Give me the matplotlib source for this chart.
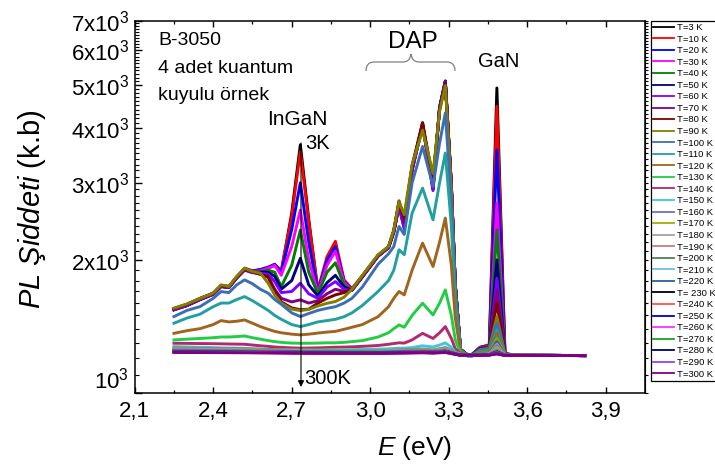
import numpy as np
import matplotlib

matplotlib.use("Agg")

import matplotlib.pyplot as plt
import matplotlib.transforms as mtransforms
from matplotlib.path import Path
from matplotlib.patches import PathPatch
from matplotlib.ticker import FixedLocator, MultipleLocator, NullFormatter

plt.rcParams["font.family"] = ["Liberation Sans", "DejaVu Sans"]
plt.rcParams["mathtext.fontset"] = "custom"
plt.rcParams["mathtext.rm"] = "Liberation Sans"
plt.rcParams["mathtext.it"] = "Liberation Sans:italic"

E_fine = [2.25, 2.30, 2.35, 2.40, 2.43, 2.46, 2.49, 2.52, 2.55, 2.58,
          2.61, 2.635, 2.66, 2.70, 2.733, 2.765, 2.80, 2.835, 2.867, 2.90,
          2.93, 2.97, 3.03, 3.07, 3.09, 3.11, 3.13, 3.16, 3.20, 3.24,
          3.265, 3.287, 3.31, 3.325, 3.345, 3.38, 3.42, 3.455, 3.484, 3.515,
          3.60, 3.82]
E_coarse = [2.25, 2.40, 2.52, 2.73, 2.90, 3.05, 3.20, 3.24, 3.287, 3.345,
            3.42, 3.455, 3.484, 3.515, 3.82]

# PL intensity (a.u.), 3 K .. 150 K on E_fine
pl_3K = [1550, 1585, 1635, 1680, 1750, 1740, 1830, 1915, 1890, 1905,
         1920, 1950, 1880, 2560, 3660, 2480, 1700, 2000, 2170, 1790,
         1720, 1840, 2050, 2140, 2330, 2700, 2450, 3250, 4000, 3050,
         4400, 5080, 2900, 1750, 1255, 1210, 1270, 1285, 4925, 1225, 1218, 1216]
pl_10K = [1555, 1590, 1640, 1685, 1755, 1745, 1835, 1920, 1895, 1905,
          1930, 1955, 1900, 2520, 3530, 2450, 1714, 2040, 2210, 1806,
          1725, 1845, 2055, 2145, 2335, 2710, 2460, 3270, 4050, 3000,
          4420, 5100, 2950, 1760, 1255, 1210, 1270, 1285, 4475, 1225, 1218, 1216]
pl_20K = [1550, 1585, 1635, 1680, 1750, 1740, 1830, 1915, 1890, 1905,
          1930, 1960, 1880, 2350, 3000, 2200, 1700, 2000, 2150, 1790,
          1720, 1840, 2050, 2140, 2320, 2650, 2360, 3200, 4080, 2900,
          4450, 5100, 2950, 1760, 1255, 1210, 1268, 1280, 3565, 1225, 1218, 1216]
pl_30K = [1545, 1580, 1630, 1675, 1745, 1735, 1825, 1910, 1885, 1895,
          1920, 1950, 1850, 2150, 2600, 2000, 1690, 1950, 2100, 1780,
          1715, 1835, 2045, 2135, 2320, 2660, 2380, 3200, 4050, 2950,
          4420, 5080, 2950, 1755, 1255, 1210, 1266, 1278, 2700, 1225, 1218, 1216]
pl_40K = [1545, 1580, 1630, 1675, 1745, 1735, 1825, 1905, 1880, 1885,
          1900, 1880, 1744, 1950, 2344, 1880, 1680, 1880, 1975, 1760,
          1712, 1835, 2045, 2135, 2320, 2670, 2400, 3220, 4030, 2980,
          4400, 5060, 2950, 1755, 1255, 1210, 1264, 1275, 2346, 1225, 1218, 1216]
pl_50K = [1545, 1580, 1630, 1675, 1745, 1735, 1825, 1905, 1880, 1880,
          1880, 1840, 1720, 1800, 2022, 1760, 1660, 1780, 1850, 1740,
          1710, 1835, 2045, 2140, 2320, 2670, 2400, 3220, 4100, 2900,
          4450, 5110, 2980, 1760, 1255, 1210, 1262, 1272, 2005, 1225, 1218, 1216]
pl_60K = [1545, 1580, 1630, 1675, 1745, 1735, 1825, 1900, 1875, 1870,
          1860, 1790, 1690, 1700, 1775, 1680, 1640, 1740, 1790, 1720,
          1710, 1835, 2045, 2140, 2320, 2650, 2370, 3200, 4080, 2880,
          4430, 5090, 2970, 1760, 1255, 1210, 1260, 1270, 1821, 1225, 1218, 1216]
pl_70K = [1550, 1585, 1635, 1680, 1750, 1740, 1830, 1905, 1880, 1860,
          1840, 1720, 1640, 1610, 1627, 1600, 1620, 1680, 1720, 1700,
          1712, 1840, 2050, 2145, 2330, 2690, 2430, 3250, 4080, 3000,
          4420, 5070, 2960, 1760, 1255, 1210, 1258, 1268, 1714, 1225, 1218, 1216]
pl_80K = [1555, 1590, 1640, 1685, 1755, 1745, 1835, 1915, 1885, 1860,
          1830, 1700, 1610, 1560, 1545, 1550, 1600, 1640, 1670, 1690,
          1718, 1845, 2055, 2150, 2340, 2730, 2500, 3280, 4110, 3050,
          4400, 5050, 2950, 1760, 1255, 1210, 1256, 1266, 1599, 1225, 1218, 1216]
pl_90K = [1558, 1593, 1640, 1685, 1760, 1745, 1840, 1920, 1887, 1871,
          1775, 1670, 1600, 1550, 1538, 1548, 1576, 1598, 1613, 1650,
          1720, 1850, 2060, 2150, 2346, 2720, 2540, 3300, 3950, 3150,
          4350, 4990, 2900, 1740, 1252, 1210, 1254, 1264, 1491, 1224, 1218, 1216]
pl_100K = [1491, 1540, 1571, 1640, 1699, 1690, 1760, 1806, 1770, 1720,
           1685, 1630, 1590, 1520, 1491, 1515, 1540, 1557, 1570, 1600,
           1640, 1740, 1960, 2070, 2150, 2388, 2290, 3000, 3627, 2945,
           3690, 4322, 2700, 1680, 1250, 1210, 1250, 1258, 1440, 1224, 1218, 1216]
pl_110K = [1440, 1480, 1510, 1570, 1600, 1600, 1630, 1655, 1620, 1580,
           1540, 1500, 1470, 1430, 1415, 1430, 1450, 1460, 1470, 1490,
           1520, 1580, 1700, 1800, 1900, 2114, 2060, 2560, 2918, 2472,
           3000, 3505, 2400, 1600, 1245, 1210, 1242, 1250, 1390, 1223, 1218, 1216]
pl_120K = [1366, 1385, 1400, 1430, 1460, 1450, 1455, 1465, 1440, 1415,
           1395, 1380, 1370, 1360, 1355, 1360, 1368, 1375, 1380, 1395,
           1410, 1430, 1490, 1570, 1640, 1700, 1670, 1900, 2189, 1937,
           2200, 2495, 1950, 1480, 1240, 1210, 1235, 1242, 1366, 1222, 1218, 1216]
pl_130K = [1320, 1325, 1330, 1335, 1340, 1340, 1343, 1347, 1335, 1325,
           1315, 1308, 1303, 1298, 1297, 1297, 1298, 1300, 1300, 1303,
           1308, 1315, 1340, 1370, 1400, 1427, 1410, 1500, 1599, 1504,
           1600, 1714, 1500, 1320, 1232, 1210, 1230, 1236, 1331, 1222, 1218, 1216]
pl_140K = [1297, 1296, 1295, 1294, 1293, 1292, 1291, 1290, 1285, 1280,
           1276, 1272, 1269, 1266, 1264, 1265, 1266, 1268, 1270, 1271,
           1273, 1276, 1282, 1290, 1295, 1300, 1298, 1320, 1366, 1330,
           1370, 1415, 1330, 1260, 1228, 1210, 1226, 1232, 1308, 1221, 1218, 1216]
pl_150K = [1275, 1272, 1270, 1268, 1266, 1265, 1264, 1263, 1260, 1258,
           1256, 1255, 1254, 1253, 1252, 1252, 1252, 1253, 1253, 1254,
           1255, 1256, 1258, 1260, 1262, 1264, 1264, 1268, 1280, 1272,
           1285, 1300, 1270, 1240, 1224, 1210, 1224, 1228, 1290, 1221, 1218, 1216]

# 160 K .. 300 K on E_coarse (nearly flat)
pl_160K = [1265, 1262, 1260, 1250, 1248, 1248, 1258, 1252, 1268, 1224, 1222, 1226, 1280, 1220, 1216]
pl_170K = [1260, 1258, 1256, 1247, 1246, 1246, 1254, 1250, 1262, 1223, 1221, 1225, 1270, 1220, 1216]
pl_180K = [1255, 1254, 1252, 1245, 1244, 1244, 1250, 1247, 1258, 1222, 1221, 1224, 1262, 1219, 1216]
pl_190K = [1252, 1251, 1250, 1243, 1242, 1242, 1248, 1245, 1254, 1222, 1220, 1223, 1255, 1219, 1216]
pl_200K = [1250, 1249, 1248, 1242, 1241, 1241, 1246, 1244, 1251, 1221, 1220, 1223, 1250, 1219, 1216]
pl_210K = [1248, 1247, 1246, 1240, 1239, 1240, 1244, 1242, 1248, 1221, 1220, 1222, 1245, 1219, 1216]
pl_220K = [1246, 1245, 1244, 1239, 1238, 1238, 1242, 1240, 1246, 1220, 1219, 1222, 1242, 1218, 1216]
pl_230K = [1244, 1243, 1242, 1237, 1236, 1236, 1240, 1238, 1244, 1220, 1219, 1221, 1240, 1218, 1216]
pl_240K = [1240, 1239, 1238, 1233, 1232, 1232, 1236, 1234, 1240, 1219, 1218, 1221, 1238, 1218, 1216]
pl_250K = [1242, 1241, 1240, 1235, 1234, 1234, 1238, 1236, 1242, 1219, 1218, 1221, 1236, 1218, 1216]
pl_260K = [1245, 1244, 1243, 1237, 1236, 1236, 1240, 1238, 1243, 1219, 1218, 1220, 1234, 1218, 1216]
pl_270K = [1243, 1242, 1241, 1236, 1235, 1235, 1239, 1237, 1241, 1219, 1218, 1220, 1232, 1218, 1216]
pl_280K = [1240, 1239, 1238, 1234, 1233, 1233, 1237, 1235, 1239, 1218, 1218, 1220, 1230, 1217, 1216]
pl_290K = [1238, 1237, 1236, 1232, 1231, 1231, 1235, 1233, 1237, 1218, 1217, 1220, 1228, 1217, 1216]
pl_300K = [1236, 1235, 1234, 1231, 1230, 1230, 1234, 1232, 1236, 1218, 1217, 1219, 1226, 1217, 1216]

legend_labels = ["T=3 K", "T=10 K", "T=20 K", "T=30 K", "T=40 K", "T=50 K",
                 "T=60 K", "T=70 K", "T=80 K", "T=90 K", "T=100 K", "T=110 K",
                 "T=120 K", "T=130 K", "T=140 K", "T=150 K", "T=160 K", "T=170 K",
                 "T=180 K", "T=190 K", "T=200 K", "T=210 K", "T=220 K", "T= 230 K",
                 "T=240 K", "T=250 K", "T=260 K", "T=270 K", "T=280 K", "T=290 K",
                 "T=300 K"]

line_colors = ["#000000", "#ff0000", "#0000ff", "#ff00ff", "#008000", "#000080",
               "#8000ff", "#800080", "#800000", "#808000", "#3c6eb4", "#22a0a0",
               "#a0641e", "#22cc44", "#b4286e", "#40c8d8", "#7070c8", "#a0b000",
               "#a0a0a0", "#c08080", "#508050", "#70c0e0", "#306090", "#000000",
               "#ff5050", "#0000c0", "#ff30ff", "#20a020", "#000070", "#9040ff",
               "#800080"]

x_ticks = [2.1, 2.4, 2.7, 3.0, 3.3, 3.6, 3.9]
x_tick_labels = ["2,1", "2,4", "2,7", "3,0", "3,3", "3,6", "3,9"]
y_ticks = [1000, 2000, 3000, 4000, 5000, 6000, 7000]
y_tick_labels = [r"$10^3$", r"$2\mathrm{x}10^3$", r"$3\mathrm{x}10^3$", r"$4\mathrm{x}10^3$",
                 r"$5\mathrm{x}10^3$", r"$6\mathrm{x}10^3$", r"$7\mathrm{x}10^3$"]

fine_spectra = [pl_3K, pl_10K, pl_20K, pl_30K, pl_40K, pl_50K, pl_60K, pl_70K,
                pl_80K, pl_90K, pl_100K, pl_110K, pl_120K, pl_130K, pl_140K, pl_150K]
coarse_spectra = [pl_160K, pl_170K, pl_180K, pl_190K, pl_200K, pl_210K, pl_220K,
                  pl_230K, pl_240K, pl_250K, pl_260K, pl_270K, pl_280K, pl_290K, pl_300K]
spectra = [(E_fine, s) for s in fine_spectra] + [(E_coarse, s) for s in coarse_spectra]


W, H = 715, 468
fig = plt.figure(figsize=(W / 100, H / 100), dpi=100)
ax = fig.add_axes([134.7 / W, 1 - 393 / H, 510.3 / W, 372.3 / H])

# reference-pixel coordinates (origin top-left) for annotations
ref_px = mtransforms.Affine2D().scale(1 / W, -1 / H).translate(0, 1) + fig.transFigure

handles = []
for (energy, inten), color, label in zip(spectra, line_colors, legend_labels):
    (line,) = ax.plot(energy, inten, color=color, lw=2.1, label=label,
                      solid_joinstyle="round")
    handles.append(line)

ax.set_yscale("log")
ax.set_xlim(2.1, 4.05)
ax.set_ylim(1000, 7000)

ax.set_xticks(x_ticks, x_tick_labels)
ax.xaxis.set_minor_locator(MultipleLocator(0.15))
ax.set_yticks(y_ticks, y_tick_labels)
ax.yaxis.set_minor_locator(FixedLocator(np.arange(1100, 7000, 100)))
ax.yaxis.set_minor_formatter(NullFormatter())

ax.tick_params(axis="both", which="both", direction="in", top=True, right=False,
               labelsize=16)
ax.tick_params(axis="x", which="major", length=4.5, width=1.0, pad=6)
ax.tick_params(axis="x", which="minor", length=2.5, width=0.9)
ax.tick_params(axis="y", which="major", length=5, width=1.0, pad=4)
ax.tick_params(axis="y", which="minor", length=3, width=0.8)
for sp in ax.spines.values():
    sp.set_linewidth(1.1)

# the 10^3 label sits a little above its tick, clear of "2,1"
ax.yaxis.get_major_ticks()[0].label1.set_verticalalignment("bottom")

sec = ax.secondary_yaxis("right")
sec.set_yticks(y_ticks)
sec.yaxis.set_minor_locator(FixedLocator(np.arange(1100, 7000, 100)))
sec.tick_params(which="both", direction="out", labelright=False, length=2.5, width=0.8)
sec.yaxis.set_minor_formatter(NullFormatter())

ax.set_xlabel(r"$E$ (eV)", fontsize=19)
ax.xaxis.set_label_coords(0.549, -0.11)
ax.set_ylabel(r"$\mathit{PL\ Şiddeti}$ (k.b)", fontsize=21)
ax.yaxis.set_label_coords(-0.17, 0.494)

fs = 14
ax.text(158, 45, "B-3050", transform=ref_px, fontsize=fs, va="baseline")
ax.text(158, 73, "4 adet kuantum", transform=ref_px, fontsize=fs, va="baseline")
ax.text(158, 100, "kuyulu örnek", transform=ref_px, fontsize=fs, va="baseline")
ax.text(266.7, 125, "InGaN", transform=ref_px, fontsize=15, va="baseline")
ax.text(305, 149.3, "3K", transform=ref_px, fontsize=14.5, va="baseline")
ax.text(388, 48.3, "DAP", transform=ref_px, fontsize=17.5, va="baseline")
ax.text(478, 67, "GaN", transform=ref_px, fontsize=14.5, va="baseline")
ax.text(304, 384, "300K", transform=ref_px, fontsize=14.5, va="baseline")

ax.annotate("", xy=(301, 387), xytext=(301, 143), xycoords=ref_px, textcoords=ref_px,
            arrowprops=dict(arrowstyle="-|>", color="black", lw=0.8,
                            mutation_scale=9, shrinkA=0, shrinkB=0))

brace_verts = [(366, 71), (366, 62), (374, 62), (403, 62), (410, 62), (411, 54),
               (412, 62), (419, 62), (447, 62), (455, 62), (455, 71)]
brace_codes = [Path.MOVETO, Path.CURVE3, Path.CURVE3, Path.LINETO, Path.CURVE3,
               Path.CURVE3, Path.CURVE3, Path.CURVE3, Path.LINETO, Path.CURVE3,
               Path.CURVE3]
brace = PathPatch(Path(brace_verts, brace_codes), transform=ref_px, facecolor="none",
                  edgecolor="#808080", lw=0.9, clip_on=False)
ax.add_patch(brace)

leg = fig.legend(handles=handles, labels=legend_labels, loc="upper left",
                 bbox_to_anchor=(651 / W, 1 - 20.7 / H), borderaxespad=0,
                 fontsize=6.8, handlelength=2.2, handletextpad=0.3,
                 labelspacing=0.27, borderpad=0.25, frameon=True,
                 fancybox=False, edgecolor="black", framealpha=1)
leg.get_frame().set_linewidth(0.9)
for lh in leg.get_lines():
    lh.set_linewidth(1.3)

fig.savefig("out.png", dpi=100)
